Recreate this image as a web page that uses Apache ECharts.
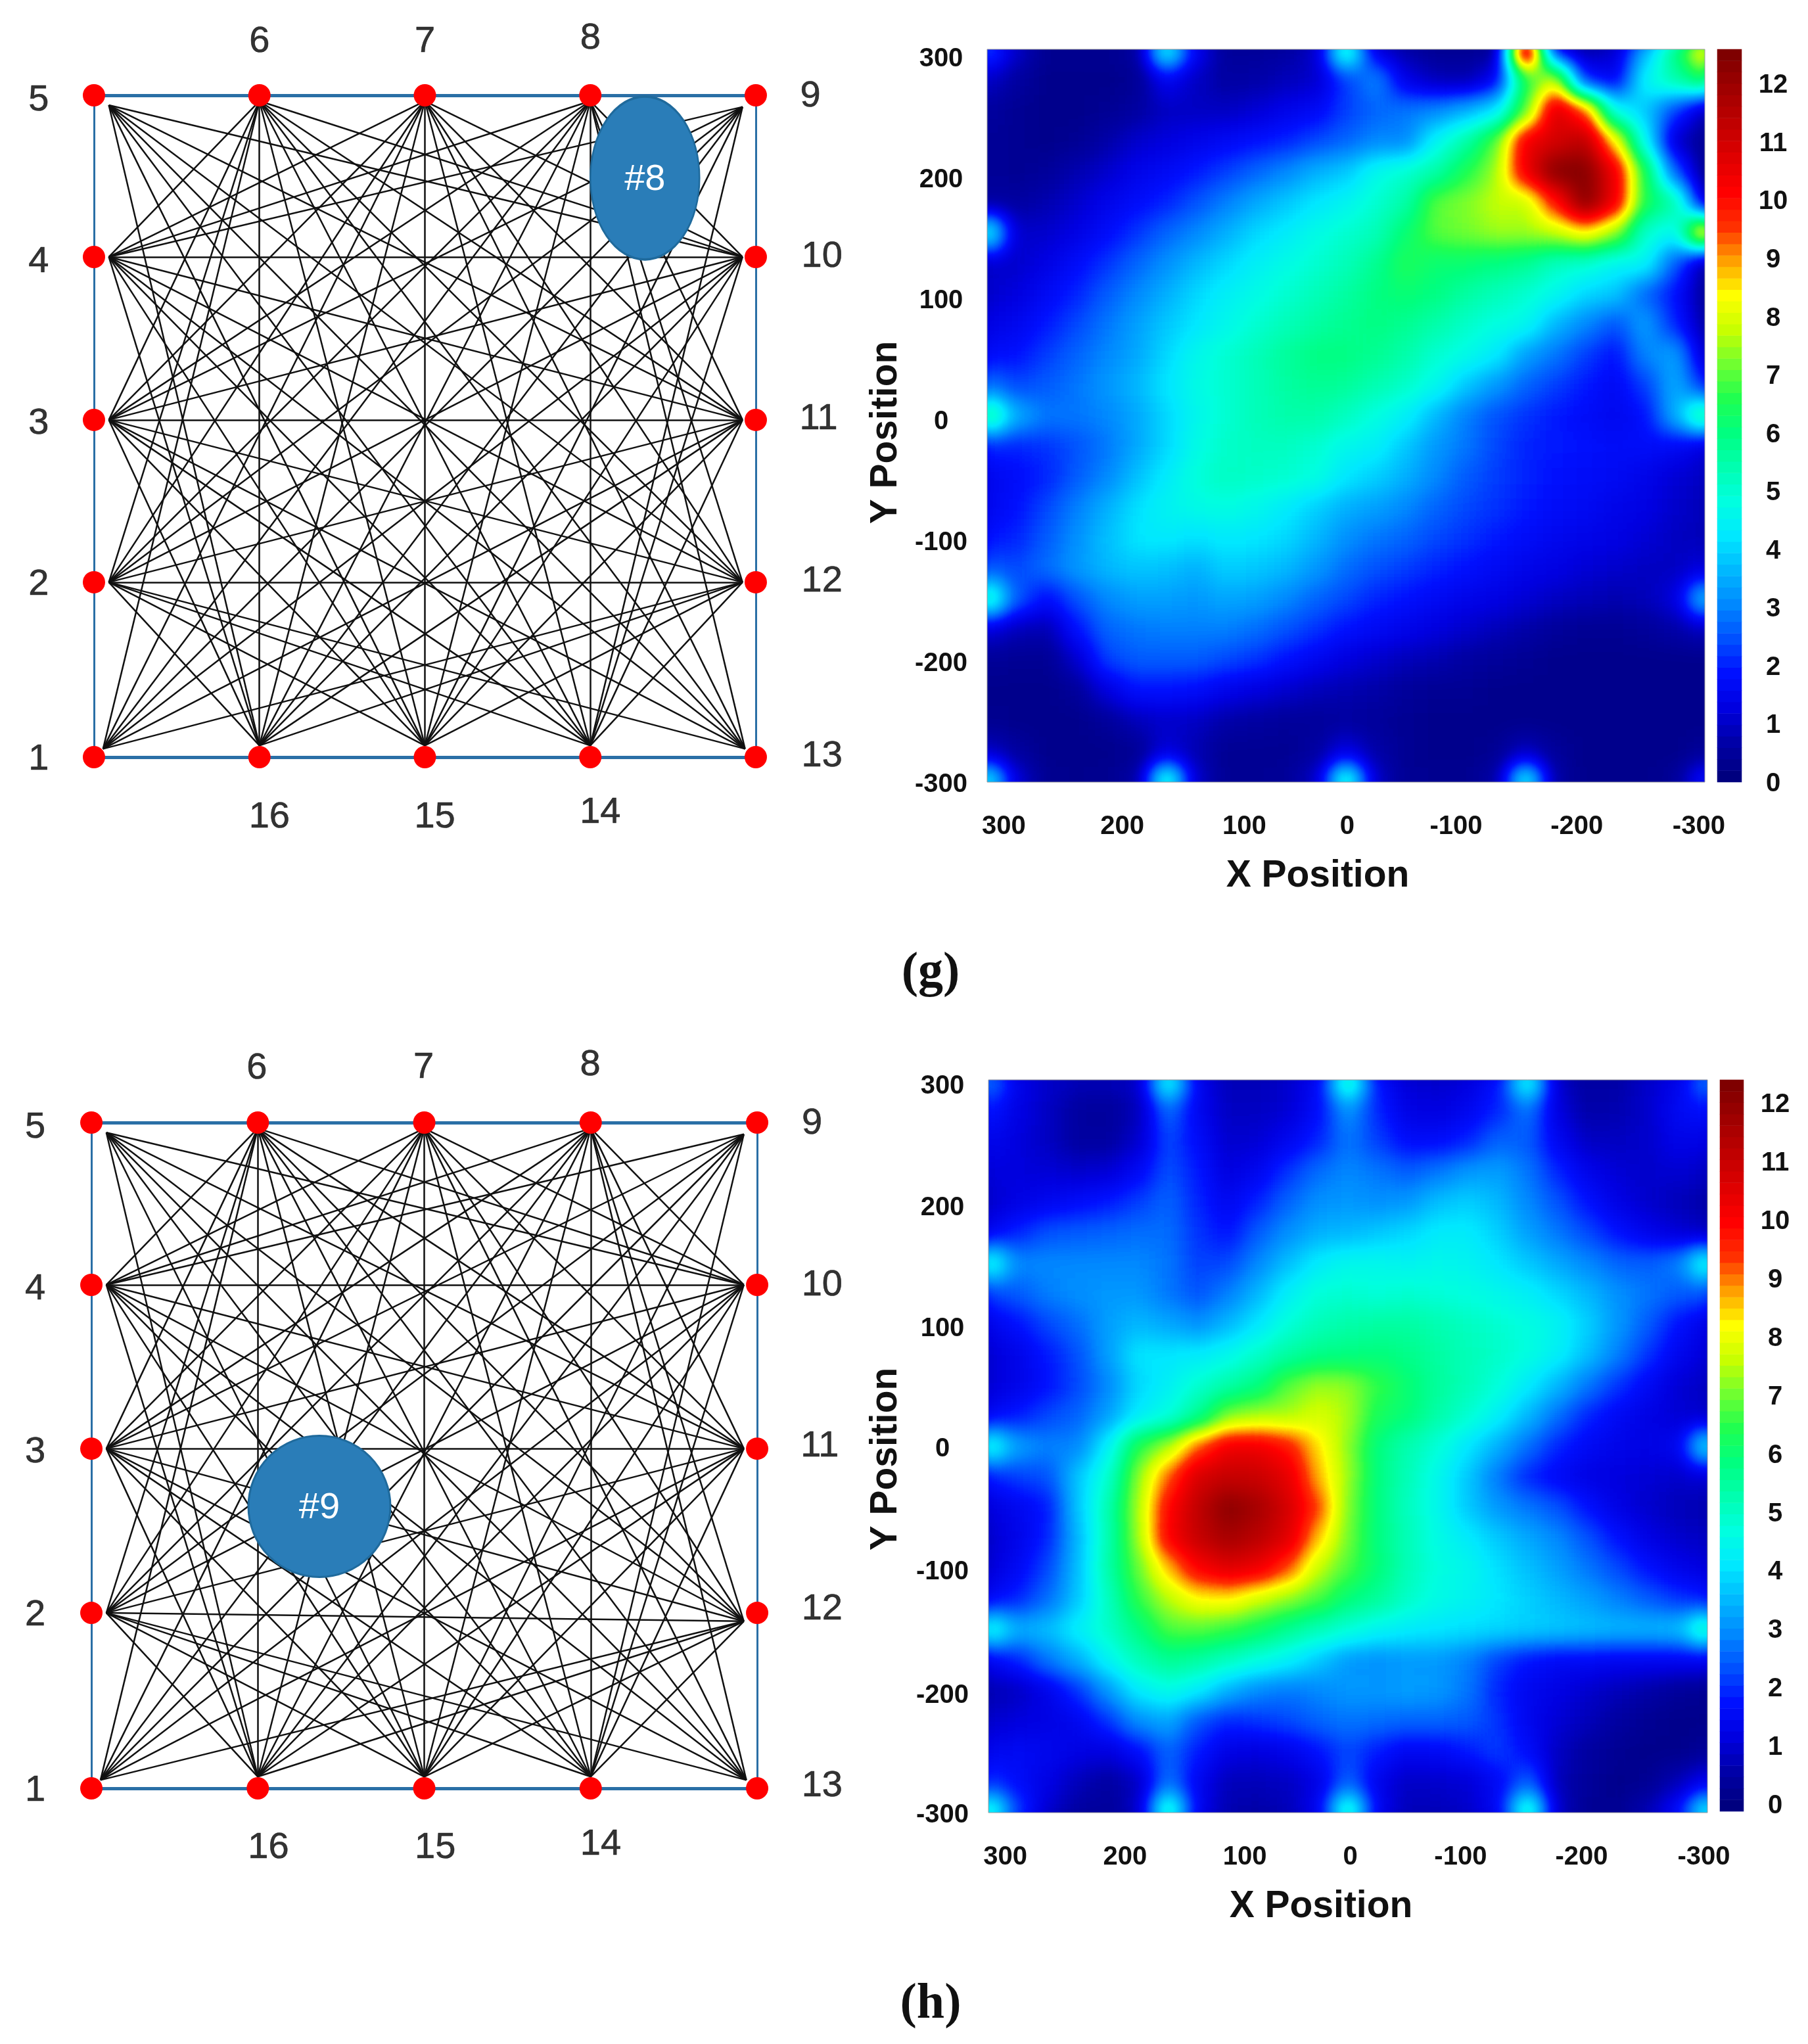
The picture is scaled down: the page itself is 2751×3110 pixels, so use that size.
<!DOCTYPE html>
<html><head><meta charset="utf-8">
<style>html,body{margin:0;padding:0;background:#fff;width:2751px;height:3110px;overflow:hidden}
#main{position:absolute;left:0;top:0;width:2751px;height:3110px;z-index:2}
.wrap{position:absolute;overflow:hidden;background:#00007f;z-index:1}
.inner{position:absolute;background:#000;filter:url(#jetField)}</style>
<script src="https://cdn.jsdelivr.net/npm/echarts@6/dist/echarts.min.js"></script>
</head><body><div id="main"></div>
<svg width="0" height="0" style="position:absolute"><defs><filter id="jetField" x="0" y="0" width="100%" height="100%" color-interpolation-filters="sRGB">
<feGaussianBlur stdDeviation="17"/><feComponentTransfer id="jetTable"></feComponentTransfer></filter></defs></svg>
<script>
// ---- network data
const nodeIds = [1,2,3,4,5,6,7,8,9,10,11,12,13,14,15,16];
const nodeCols = [0,0,0,0,0,1,2,3,4,4,4,4,4,3,2,1];
const nodeRowIdx = [0,1,2,3,4,4,4,4,4,3,2,1,0,0,0,0];
const rowsG = [0,1.057,2.038,3.023,4];
const rowsH = [0,1.054,2.041,3.025,4];
const anchorDX = [.055,.09,.09,.09,.09,0,0,0,-.08,-.08,-.08,-.08,-.065,0,0,0];
const anchorDY = [.05,0,0,0,-.06,-.035,-.035,-.035,-.07,0,0,0,.05,.07,.07,.07];
const anchorDYH = [.05,0,0,0,-.06,-.035,-.035,-.035,-.07,0,0,-.05,.05,.07,.07,.07];
const sides = [[1,2,3,4,5],[5,6,7,8,9],[9,10,11,12,13],[13,14,15,16,1]];
const labelXG = [-.334,-.334,-.334,-.334,-.334,1,2,3,4.33,4.40,4.38,4.40,4.40,3.06,2.06,1.06];
const labelYG = [0,1.057,2.03,3.01,3.985,4.34,4.34,4.36,4.01,3.04,2.06,1.08,.02,-.322,-.346,-.346];
const labelXH = [-.337,-.337,-.337,-.337,-.337,.994,1.996,2.997,4.33,4.39,4.376,4.39,4.39,3.06,2.066,1.064];
const labelYH = [0,1.058,2.037,3.016,3.987,4.34,4.347,4.363,4.01,3.04,2.07,1.09,.03,-.32,-.343,-.343];
// ---- heat maps: rows top (y=300) to bottom (y=-300), columns left (x=300) to right (x=-300), step 25
const heatG = [
[2.5,1,.3,.3,.3,.5,5,1.5,.4,.4,.5,1,5.5,1.2,.6,.3,.3,.4,12.6,1.5,.6,1,3.5,6,9],
[1,.5,.2,.2,.2,.3,1.5,.9,.5,.6,.8,1,2.2,3,1.3,.8,.7,1.5,6.5,8,2,1.5,4.5,5.5,6.5],
[.5,.3,.2,.2,.3,.5,.9,.9,.9,1.1,1.4,1.6,2.2,2.6,2.8,3,3.5,4.2,7,11,9.5,4.6,3.8,2.2,.8],
[.4,.3,.2,.3,.6,1,1.2,1.4,1.6,1.8,2,2.3,2.6,3,3,4.5,5.5,7,10.5,11,11.5,8.5,4.5,1,.3],
[.4,.3,.4,.7,1,1.4,1.6,1.9,2.2,2.6,3,3.5,3.8,4.6,5,5.5,6.5,7.5,10.5,12.5,12.5,10.5,6.5,2.5,.3],
[.5,.5,.7,1,1.4,1.7,2,2.4,2.9,3.4,3.8,4.2,4.5,5,5.5,7,7.3,7.8,7.8,10,12.5,10.5,6.5,5.5,1],
[5,1,1,1.3,1.7,2.1,2.6,3,3.5,4,4.3,4.7,5,5.3,6.2,7,7.2,7.5,7.5,7.8,8.5,7.5,5,4.5,9.5],
[1,1,1.3,1.7,2.1,2.6,3.1,3.6,4,4.4,4.7,5,5.3,5.8,6.5,6.2,6.2,6,5.8,5.2,5,4.5,4.5,2.5,.6],
[1,1.2,1.6,2,2.5,3,3.5,4,4.4,4.7,5,5.3,5.6,6,6.2,6,5.6,5.3,5,4.6,4,3.8,2.6,1.8,.4],
[1.3,1.5,1.9,2.3,2.8,3.3,3.8,4.2,4.6,5,5.3,5.6,5.8,6,5.8,5.5,5.1,4.8,4.6,3.6,3,2.4,3.3,2,.6],
[1.7,1.8,2.2,2.6,3,3.4,4,4.6,5,5.3,5.7,6,6,5.8,5.5,5,4.7,4.3,3.3,2.8,2.2,1.8,3,3.3,1],
[2.8,2.3,2.5,2.8,3.2,3.6,4.2,4.7,5,5.3,5.6,5.8,5.7,5.4,5.1,4.6,3.8,3.2,2.6,2.2,1.9,1.6,2.2,3.5,2],
[6,3.5,2.8,2.8,3,3.4,4,4.6,5,5.3,5.5,5.5,5.2,4.8,4.4,3.6,2.9,2.4,2.1,1.9,1.7,1.5,1.8,3.5,6],
[2,2,2.1,2.4,2.8,3.4,4,4.7,5.1,5.2,5.2,5,4.6,4.4,3.8,3.2,2.8,2.3,2,1.9,1.8,1.7,1.7,1.6,1.2],
[1.5,1.7,2,2.5,3,3.7,4.3,4.9,5.2,5.1,5,4.8,4.2,3.9,3.5,3,2.5,2.2,2,1.8,1.7,1.6,1.4,1.1,.9],
[1.5,1.8,2.3,2.9,3.5,4.1,4.5,4.7,4.8,4.6,4.3,3.9,3.5,3.3,3,2.6,2.3,2.1,1.9,1.7,1.6,1.4,1.3,1,.8],
[1.8,2,2.5,3.1,3.7,4.2,4.3,4.1,4.3,4.2,4,3.6,3.1,2.8,2.6,2.3,2.1,1.9,1.7,1.5,1.4,1.3,1.1,.9,.8],
[2.5,2.3,2.7,3.2,3.6,3.8,3.7,3.5,3.9,3.8,3.6,3.2,2.7,2.4,2.2,2,1.8,1.6,1.4,1.3,1.1,1,.9,.9,1.2],
[5.5,2.5,1.7,2.4,3,3.3,3.3,3.2,3.4,3.3,3,2.6,2.3,2,1.8,1.6,1.4,1.3,1.1,.9,.8,.7,.8,1.2,4],
[1.2,.8,.7,1.8,2.6,2.8,2.9,2.9,2.9,2.7,2.4,2.1,1.8,1.6,1.4,1.2,1,.8,.6,.4,.3,.3,.4,.6,.9],
[.4,.3,.3,1,2.2,2.5,2.5,2.5,2.3,2.1,1.8,1.5,1.2,1,.8,.7,.5,.4,.3,.2,.2,.2,.2,.2,.2],
[.2,.2,.2,.4,1.2,1.8,1.8,1.7,1.4,1.2,1,.8,.7,.6,.4,.3,.3,.2,.2,.2,.2,.2,.2,.2,.2],
[.3,.2,.2,.2,.4,.8,1,.9,.6,.5,.4,.4,.5,.4,.3,.2,.2,.2,.2,.2,.2,.2,.2,.2,.2],
[1,.5,.2,.2,.2,.3,1.2,.7,.3,.3,.3,.5,1.3,.6,.3,.2,.2,.3,.9,.4,.2,.2,.2,.2,.4],
[5,1.2,.3,.2,.3,.6,5.5,1,.3,.3,.4,1,5.5,1,.3,.3,.3,.6,5,.6,.2,.2,.2,.4,2]
];
const heatH = [
[3,1.4,1,.8,.8,1,5,1.5,.8,.8,1,1.6,5.5,1.8,1.1,1,1.2,1.8,5,1,.5,.6,1,1.4,3],
[1.9,1.3,.9,.5,.4,.8,2.7,1.5,.9,.9,1.1,1.7,3.2,2,1.3,1.2,1.5,2,2.8,1.2,.6,.7,1,1.6,1.8],
[1.5,1.2,.9,.5,.5,1,2.3,1.7,1,1.1,1.5,2,2.8,2.2,1.7,1.7,2,2.6,2.5,1.5,.9,.9,1,1.4,1.3],
[1.2,1.2,1.1,1,1.1,1.6,2.4,1.9,1.2,1.5,2.1,2.7,3,2.8,2.5,2.8,3.2,3.3,2.8,2,1.4,1.1,1,1.1,.9],
[1,1.3,1.5,1.7,1.9,2.2,2.6,2,1.5,2,2.6,3.1,3.2,3.1,3.2,3.7,3.9,3.6,3,2.4,1.8,1.3,1,.8,.6],
[1.5,2,2.4,2.5,2.6,2.7,2.7,2.1,1.8,2.5,3.1,3.5,3.6,3.8,4,4.3,4.3,3.9,3.3,2.8,2.3,1.8,1.4,1.1,.9],
[5,3,3,3,3,3,2.8,2.2,2.3,3,3.7,4.3,4.6,4.6,4.5,4.6,4.5,4.2,3.8,3.4,3,2.6,2.5,2.9,5],
[2.2,2.5,2.9,3.1,3.2,3.2,2.8,2.4,2.9,3.6,4.4,4.9,5,4.9,5,4.9,4.8,4.6,4.4,4,3.6,3.1,2.8,2.5,2.4],
[1.4,1.8,2.3,2.7,3.3,3.6,3.4,3.1,3.6,4.2,4.9,5.3,5.5,5.6,5.6,5.4,5.2,5,4.8,4.5,3.9,3.2,2.5,1.8,1.3],
[1.1,1.4,1.9,2.4,3.3,4.2,4.2,4.3,4.6,5.1,5.6,5.9,6,6.1,5.9,5.6,5.3,5.1,4.8,4.4,3.7,2.9,2.1,1.5,1.1],
[1.1,1.4,1.8,2.3,3,4,4.4,5,5.5,6,7,7.5,7.4,6.7,6.2,5.7,5.3,4.9,4.3,3.6,2.8,2.1,1.6,1.1,.9],
[1.6,1.9,2.3,2.6,3.3,4.3,4.8,5.8,7.3,7.6,7.6,8,7.6,6.4,6.1,5.5,5,4.4,3.6,2.7,2,1.6,1.3,1.1,1],
[5,3.3,2.9,3,4.4,6.6,7.6,9.4,10.5,10.5,10,8.6,7.4,6,5.4,4.9,4.2,3.5,2.7,2,1.6,1.4,1.3,1.5,4.5],
[1.9,2.2,2.4,3.8,5,7.4,9.4,11,11.3,11.2,10.7,8.9,7.5,6,5.3,4.6,3.8,2.8,2,1.6,1.3,1.2,1.1,1,1.1],
[1.2,1.5,1.9,3.8,5.4,7.6,10.2,11.4,12.4,11.9,11,9.6,7.3,6,5.2,4.6,3.8,3.2,2.8,2.4,1.8,1.3,1,.8,.7],
[1,1.4,2,3.6,5.4,7.5,10.3,11.3,11.9,11.5,10.8,8.8,7.2,6,5.3,4.7,4.3,3.8,3.4,3,2.4,1.8,1.3,1,.9],
[1.1,1.6,2.3,3.7,5.5,7.1,8.8,10.3,10.8,10.5,9.5,7.8,6.9,6.1,5.3,4.8,4.6,4.1,3.7,3.3,2.8,2.3,1.8,1.4,1.2],
[1.6,2,2.7,3.8,5.2,6.7,7.7,8.4,8.5,7.9,7.4,6.9,6.1,5.7,5.1,4.7,4.5,4.2,3.9,3.6,3.3,2.9,2.5,2.1,1.9],
[5,3.5,3.7,4.4,5.1,6,6.9,7,6.7,6.3,5.8,5.3,4.9,4.5,4.3,4.2,4.1,4,3.9,3.8,3.7,3.6,3.6,3.7,5.5],
[1.5,2,2.8,3.5,4.5,5.3,5.8,5.6,5.2,4.8,4.4,3.8,3.2,3.1,3.2,3.2,2.9,2.2,1.8,1.6,1.6,1.5,1.5,1.5,1.5],
[.7,.9,1.4,2.1,3.2,4.3,4.7,4.3,3.5,3,2.8,3,3.2,3.2,3.3,3.2,2.8,2,1.5,1.3,1,.8,.6,.4,.3],
[1,1.2,1.3,1.5,2.1,3.1,3.4,2.4,2,2.1,2.3,2.6,2.8,2.7,2.6,2.6,2.5,2.1,1.5,1.1,.8,.5,.3,.2,.2],
[1.5,1.6,1.5,1.3,1.2,1.7,2.6,1.9,1.3,1.2,1.4,1.8,2.3,1.9,1.5,1.6,1.9,2.2,1.7,.9,.5,.3,.2,.2,.4],
[2.1,1.7,1.3,.8,.5,.9,2.8,1.5,.8,.8,.9,1.3,2.6,1.4,.9,1,1.1,1.6,2.6,.8,.4,.2,.3,.8,1.5],
[5.5,2.2,1,.5,.4,1,5.5,1.5,.7,.6,.8,1.5,5.5,1.5,.8,.8,1,1.6,5.5,1,.3,.3,.8,1.8,5]
];
const heatX = [300,275,250,225,200,175,150,125,100,75,50,25,0,-25,-50,-75,-100,-125,-150,-175,-200,-225,-250,-275,-300];
const heatY = [300,275,250,225,200,175,150,125,100,75,50,25,0,-25,-50,-75,-100,-125,-150,-175,-200,-225,-250,-275,-300];
// ---- tick labels (anchors follow where the labels sit in the picture)
const xTickText = ['300','200','100','0','-100','-200','-300'];
const xTickAtG = [286,187,85,-1,-92,-193,-295];
const xTickAtH = [286,186,86,-2,-94,-195,-297];
const yTickText = ['300','200','100','0','-100','-200','-300'];
const yTickAtG = [294,195,96,-3,-102,-201,-300];
const yTickAtH = [297,197,98,0,-101,-202,-300];
const barTicks = [0,1,2,3,4,5,6,7,8,9,10,11,12];
const barLevels = [0,.2,.4,.6,.8,1,1.2,1.4,1.6,1.8,2,2.2,2.4,2.6,2.8,3,3.2,3.4,3.6,3.8,4,4.2,4.4,4.6,4.8,5,5.2,5.4,5.6,5.8,6,6.2,6.4,6.6,6.8,7,7.2,7.4,7.6,7.8,8,8.2,8.4,8.6,8.8,9,9.2,9.4,9.6,9.8,10,10.2,10.4,10.6,10.8,11,11.2,11.4,11.6,11.8,12,12.2,12.4,12.6];
const jet = ['#00007f','#0000a8','#0000e0','#0010ff','#0050ff','#0088ff','#00b8ff','#00e8ff','#00ffe0','#00ffb0','#00ff80','#20ff50','#70ff30','#c8ff00','#ffff00','#ffa000','#ff3000','#ff0000','#e00000','#c00000','#a00000','#7f0000'];

// the field layer is drawn as a grey value image; an SVG filter softens it and applies the colour table
const table=document.getElementById('jetTable');
[['feFuncR',1],['feFuncG',3],['feFuncB',5]].forEach(([tag,o])=>{
  const f=document.createElementNS('http://www.w3.org/2000/svg',tag);
  f.setAttribute('type','table');
  f.setAttribute('tableValues',jet.map(c=>(parseInt(c.substr(o,2),16)/255).toFixed(3)).join(' '));
  table.appendChild(f);
});

const SANS='"Liberation Sans",Arial,sans-serif';
const panels=[
 {rows:rowsG,ax:anchorDY,lx:labelXG,ly:labelYG,grid:{left:17.1,top:19.1,width:1384.6,height:1258.75},
  blob:{name:'#8',x:3.33,y:3.5,size:[166,248]}, heat:heatG,
  plot:{left:1502,top:75,width:1092,height:1115},bar:{left:2613,top:75,width:37,height:1115},barRange:[0,12.59],
  xAt:xTickAtG,yAt:yTickAtG,xTitle:[2005,1333],yTitle:[1348,658],cap:['(g)',1416,1481]},
 {rows:rowsH,ax:anchorDYH,lx:labelXH,ly:labelYH,grid:{left:12.4,top:1581.4,width:1392.9,height:1266.25},
  blob:{name:'#9',x:1.37,y:1.694,size:[216,215]}, heat:heatH,
  plot:{left:1504,top:1643,width:1094,height:1115},bar:{left:2617,top:1643,width:36,height:1113},barRange:[-.12,12.39],
  xAt:xTickAtH,yAt:yTickAtH,xTitle:[2010,2901],yTitle:[1348,2220],cap:['(h)',1416,3050]}
];
const links=[];
for(let a=1;a<=16;a++)for(let b=a+1;b<=16;b++){
  if(!sides.some(s=>s.includes(a)&&s.includes(b)))links.push([a,b]);
}
const grids=[],xAxes=[],yAxes=[],series=[],graphic=[];
const hiddenVal=(gi,min,max)=>({gridIndex:gi,type:'value',min,max,show:false});
const barSeriesIdx=[];
panels.forEach((p,pi)=>{
  let gi=grids.length;
  grids.push(p.grid);
  xAxes.push(hiddenVal(gi,-.5,5)); yAxes.push(hiddenVal(gi,-.5,4.5));
  const nx=i=>nodeCols[i], ny=i=>p.rows[nodeRowIdx[i]];
  const base={xAxisIndex:xAxes.length-1,yAxisIndex:yAxes.length-1,silent:true,animation:false};
  const frame=(a,b)=>({coords:[[nx(a),ny(a)],[nx(b),ny(b)]]});
  series.push({...base,type:'lines',coordinateSystem:'cartesian2d',z:2,lineStyle:{color:'#2a6fa6',width:5,opacity:1},data:[frame(4,8),frame(0,12)]});
  series.push({...base,type:'lines',coordinateSystem:'cartesian2d',z:2,lineStyle:{color:'#2a6fa6',width:3,opacity:1},data:[frame(0,4),frame(8,12)]});
  series.push({...base,type:'lines',coordinateSystem:'cartesian2d',z:3,lineStyle:{color:'#111',width:2.5,opacity:1},
    data:links.map(([a,b])=>{const i=a-1,j=b-1;return {coords:[[nx(i)+anchorDX[i],ny(i)+p.ax[i]],[nx(j)+anchorDX[j],ny(j)+p.ax[j]]]};})});
  series.push({...base,type:'scatter',z:5,symbol:'circle',symbolSize:34,itemStyle:{color:'#ff0000',opacity:1},data:nodeIds.map((_,i)=>[nx(i),ny(i)])});
  series.push({...base,type:'scatter',z:6,symbol:'circle',symbolSize:p.blob.size,
    itemStyle:{color:'#2a7db8',borderColor:'#1f6a9c',borderWidth:3,opacity:1},
    label:{show:true,position:'inside',offset:[0,3],formatter:p.blob.name,color:'#fff',fontFamily:SANS,fontSize:56},
    data:[[p.blob.x,p.blob.y]]});
  series.push({...base,type:'scatter',z:7,symbolSize:0,
    label:{show:true,position:'inside',offset:[0,4],formatter:o=>String(nodeIds[o.dataIndex]),color:'#000',fontFamily:SANS,fontSize:56,textBorderColor:'#000',textBorderWidth:.6},
    data:nodeIds.map((_,i)=>[p.lx[i],p.ly[i]])});
  // plot border
  gi=grids.length;
  grids.push({...p.plot,show:true,borderColor:'#9a9a9a',borderWidth:1,backgroundColor:'transparent'});
  xAxes.push(hiddenVal(gi,0,1)); yAxes.push(hiddenVal(gi,0,1));
  // tick labels
  gi=grids.length;
  grids.push({left:p.plot.left,top:p.plot.top+4,width:p.plot.width,height:p.plot.height});
  const tickStyle={color:'#111',fontFamily:SANS,fontWeight:'bold',fontSize:40};
  xAxes.push({gridIndex:gi,type:'value',min:-300,max:300,inverse:true,splitLine:{show:false},axisTick:{show:false},
    axisLine:{show:false},
    axisLabel:{...tickStyle,margin:44,hideOverlap:false,customValues:p.xAt,formatter:v=>xTickText[p.xAt.indexOf(v)]}});
  yAxes.push({gridIndex:gi,type:'value',min:-300,max:300,splitLine:{show:false},axisTick:{show:false},
    axisLine:{show:false},
    axisLabel:{...tickStyle,margin:70,align:'center',hideOverlap:false,customValues:p.yAt,formatter:v=>yTickText[p.yAt.indexOf(v)]}});
  // colour bar
  gi=grids.length;
  grids.push({...p.bar});
  xAxes.push({gridIndex:gi,type:'category',data:['bar'],show:false});
  yAxes.push({gridIndex:gi,type:'category',data:barLevels.map(String),show:false});
  const bxi=xAxes.length-1,byi=yAxes.length-1;
  barSeriesIdx.push(series.length);
  series.push({type:'heatmap',xAxisIndex:bxi,yAxisIndex:byi,silent:true,animation:false,progressive:0,
    data:barLevels.map((v,i)=>[0,i,v])});
  gi=grids.length;
  grids.push({left:p.bar.left,top:p.bar.top+3,width:p.bar.width,height:p.bar.height});
  xAxes.push(hiddenVal(gi,0,1));
  yAxes.push({gridIndex:gi,type:'value',position:'right',min:p.barRange[0],max:p.barRange[1],splitLine:{show:false},
    axisLine:{show:false},axisTick:{show:false},
    axisLabel:{...tickStyle,margin:48,align:'center',hideOverlap:false,customValues:barTicks,formatter:v=>String(v)}});
  const title=(text,pos,rot)=>graphic.push({type:'text',x:pos[0],y:pos[1],rotation:rot||0,silent:true,
    style:{text,fill:'#111',font:'bold 57px '+SANS,align:'center',verticalAlign:'middle'}});
  title('X Position',p.xTitle);
  title('Y Position',p.yTitle,Math.PI/2);
  graphic.push({type:'text',x:p.cap[1],y:p.cap[2],silent:true,
    style:{text:p.cap[0],fill:'#111',font:'bold 76px "Liberation Serif",serif',align:'center',verticalAlign:'middle'}});
});
const main=echarts.init(document.getElementById('main'),null,{width:2751,height:3110});
main.setOption({animation:false,backgroundColor:'transparent',grid:grids,xAxis:xAxes,yAxis:yAxes,series,graphic,
  visualMap:{show:false,type:'continuous',min:0,max:12.6,dimension:2,seriesIndex:barSeriesIdx,inRange:{color:jet}}});
const PAD=70;
panels.forEach(p=>{
  const w=document.createElement('div');w.className='wrap';
  Object.assign(w.style,{left:p.plot.left+'px',top:p.plot.top+'px',width:p.plot.width+'px',height:p.plot.height+'px'});
  const c=document.createElement('div');c.className='inner';
  const cw=p.plot.width/24,ch=p.plot.height/24;
  const GW=p.plot.width+cw,GH=p.plot.height+ch,W=GW+2*PAD,H=GH+2*PAD;
  Object.assign(c.style,{left:(-cw/2-PAD)+'px',top:(-ch/2-PAD)+'px',width:W+'px',height:H+'px'});
  w.appendChild(c);document.body.appendChild(w);
  const h=echarts.init(c,null,{width:W,height:H});
  const data=[];
  p.heat.forEach((row,r)=>row.forEach((v,col)=>data.push([String(heatX[col]),String(heatY[r]),v])));
  h.setOption({animation:false,backgroundColor:'#000',grid:{left:PAD,top:PAD,width:GW,height:GH},
    xAxis:{type:'category',data:heatX.map(String),show:false},
    yAxis:{type:'category',data:heatY.map(String).reverse(),show:false},
    visualMap:{show:false,type:'continuous',min:0,max:12.6,dimension:2,inRange:{color:['#000000','#ffffff']}},
    series:[{type:'heatmap',silent:true,animation:false,progressive:0,data}]});
});
</script></body></html>
